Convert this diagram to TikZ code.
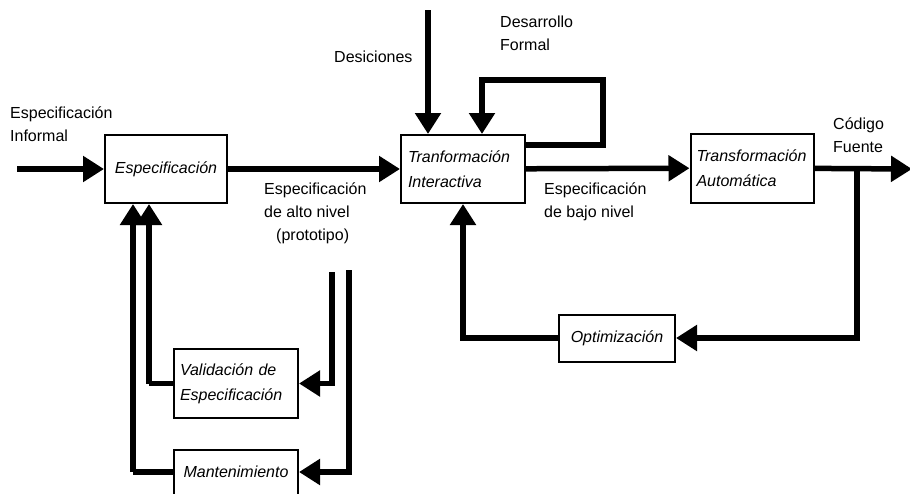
\documentclass[tikz,border=0pt]{standalone}
\usepackage{fontspec}
\setmainfont{Liberation Sans}
\usetikzlibrary{arrows.meta}
\begin{document}
\begin{tikzpicture}[x=1pt,y=-1pt,
  box/.style={draw,line width=2pt,inner sep=0pt,font=\fontsize{16}{25}\selectfont\itshape},
  lbl/.style={inner sep=0pt,align=left,anchor=west,font=\fontsize{16}{23}\selectfont},
  arr/.style={line width=5.5pt,line join=miter,-{Triangle[length=21pt,width=25pt]}},
  ln/.style={line width=5.5pt,line join=miter}]
\useasboundingbox (0,0) rectangle (910,493);
% boxes
\node[box,minimum width=122pt,minimum height=68pt] (spec) at (166,169) {Especificación};
\node[box,minimum width=124pt,minimum height=68pt,align=left,text width=110pt] (ti) at (463,169) {Tranformación\\Interactiva};
\node[box,minimum width=123pt,minimum height=69pt,align=left,text width=111pt] (ta) at (752,168) {Transformación\\Automática};
\node[box,minimum width=116pt,minimum height=47pt] (opt) at (617,338) {Optimización};
\node[box,minimum width=124pt,minimum height=69pt,align=left,text width=112pt] (val) at (236,383.5) {Validación de\\Especificación};
\node[box,minimum width=124pt,minimum height=45pt] (mant) at (236,472) {Mantenimiento};
% labels
\node[lbl] (l1) at (10,124) {Especificación\\Informal};
\node[lbl] (l2) at (334,57) {Desiciones};
\node[lbl] (l3) at (500,33.5) {Desarrollo\\Formal};
\node[lbl,align=left] (l4) at (264,213.5) {Especificación\\de alto nivel\\\hspace*{12pt}(prototipo)};
\node[lbl] (l5) at (544,201.5) {Especificación\\de bajo nivel};
\node[lbl] (l6) at (833,135) {Código\\Fuente};
% coordinates
\coordinate (in) at (17,169);
\coordinate (out) at (912,169);
\coordinate (br) at (857,169);
\coordinate (dtop) at (428,10);
\coordinate (lp1) at (ti.east |- 0,145);
\coordinate (lp2) at (603,145);
\coordinate (lp3) at (603,80);
\coordinate (lp4) at (482,80);
\coordinate (a1) at (332,272);
\coordinate (a2) at (349,270);
\coordinate (v1) at (149,383.5);
\coordinate (m1) at (133,472);
% connectors
\draw[arr] (in) -- (spec);
\draw[arr] (spec) -- (ti);
\draw[arr] (ti) -- (ta);
\draw[arr] (ta) -- (out);
\draw[arr] (br) |- (opt);
\draw[arr] (opt.west) -| (ti.south);
\draw[arr] (dtop) -- (dtop |- ti.north);
\draw[arr] (lp1) -- (lp2) -- (lp3) -- (lp4) -- (lp4 |- ti.north);
\draw[arr] (a1) |- (val.east);
\draw[arr] (a2) |- (mant.east);
\draw[ln] (val.west) -- (v1);
\draw[arr] (v1) -- (v1 |- spec.south);
\draw[ln] (mant.west) -- (m1);
\draw[arr] (m1) -- (m1 |- spec.south);
\end{tikzpicture}
\end{document}
